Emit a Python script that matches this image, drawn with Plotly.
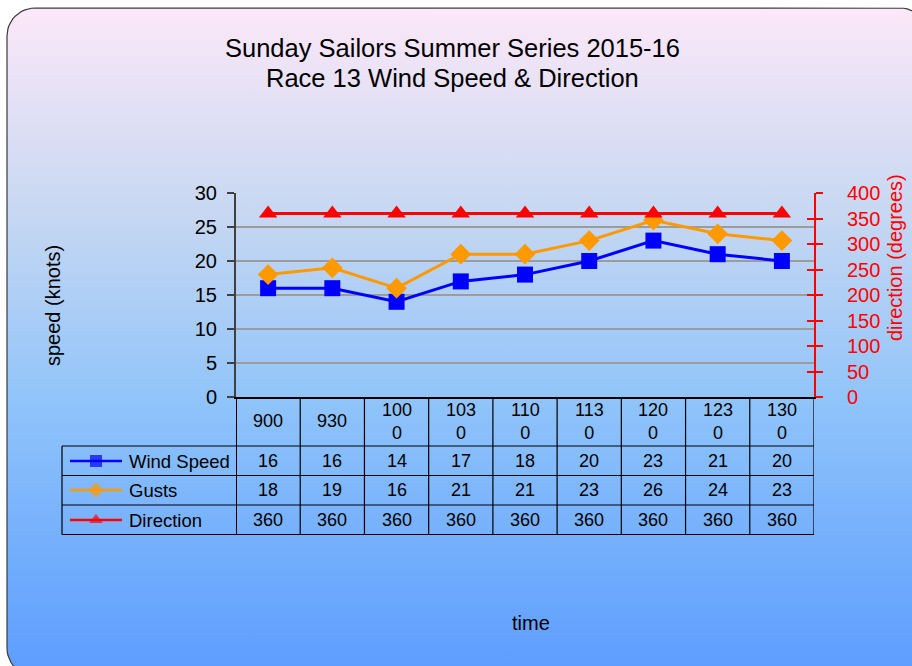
import math
import plotly.graph_objects as go

W, H = 912, 666
FONT = "Liberation Sans, Arial, sans-serif"

# ---------------- data ----------------
times = ["900", "930", "1000", "1030", "1100", "1130", "1200", "1230", "1300"]
wind_speed = [16, 16, 14, 17, 18, 20, 23, 21, 20]
gusts = [18, 19, 16, 21, 21, 23, 26, 24, 23]
direction = [360, 360, 360, 360, 360, 360, 360, 360, 360]
series_names = ["Wind Speed", "Gusts", "Direction"]
title_lines = ["Sunday Sailors Summer Series 2015-16", "Race 13 Wind Speed & Direction"]

# ---------------- layout constants (pixels) ----------------
PL, PR, PT, PB = 236, 814, 193, 397          # plot area
LEG_L = 62                                     # table legend column left edge
ROW_LINES = [446, 475.5, 505, 534.5]           # horizontal table lines
HEADER_Y = 421
ROW_Y = [461, 490, 520]
COLORS = ["#0000FF", "#FF9900", "#FF0000"]
SYMBOLS = ["square", "diamond", "triangle-up"]

fig = go.Figure()

# ---- rounded-rect gradient background (on pixel axes x/y) ----
bx0, by0, bx1, by1, r = 7, 8, 928, 676, 28
pts = []
def arc(cx, cy, a0, a1, n=12):
    for k in range(n + 1):
        a = math.radians(a0 + (a1 - a0) * k / n)
        pts.append((cx + r * math.cos(a), cy + r * math.sin(a)))
arc(bx0 + r, by0 + r, 180, 270)
arc(bx1 - r, by0 + r, 270, 360)
arc(bx1 - r, by1 - r, 0, 90)
arc(bx0 + r, by1 - r, 90, 180)
pts.append(pts[0])
fig.add_trace(go.Scatter(
    x=[p[0] for p in pts], y=[p[1] for p in pts], xaxis="x", yaxis="y",
    mode="lines", fill="toself", line=dict(color="#3a3a3a", width=1.2),
    fillgradient=dict(type="vertical", start=by0, stop=by1,
                      colorscale=[[0, "#FCE8F8"], [0.3, "#C8D8F2"], [0.6, "#8EC3FA"], [1, "#5C9CFF"]]),
    hoverinfo="skip", showlegend=False))

# ---- data series ----
fig.add_trace(go.Scatter(x=times, y=wind_speed, name=series_names[0], xaxis="x2", yaxis="y2",
                         mode="lines+markers", line=dict(color=COLORS[0], width=3),
                         marker=dict(symbol=SYMBOLS[0], size=16, color=COLORS[0]), showlegend=False))
fig.add_trace(go.Scatter(x=times, y=gusts, name=series_names[1], xaxis="x2", yaxis="y2",
                         mode="lines+markers", line=dict(color=COLORS[1], width=3),
                         marker=dict(symbol=SYMBOLS[1], size=16, color=COLORS[1]), showlegend=False))
fig.add_trace(go.Scatter(x=times, y=direction, name=series_names[2], xaxis="x2", yaxis="y3",
                         mode="lines+markers", line=dict(color=COLORS[2], width=3),
                         marker=dict(symbol=SYMBOLS[2], size=16, color=COLORS[2]), showlegend=False))
# invisible companion so the inner-tick axis (y4) is always drawn
fig.add_trace(go.Scatter(x=times, y=direction, xaxis="x2", yaxis="y4", mode="lines",
                         line=dict(width=0, color="rgba(0,0,0,0)"), hoverinfo="skip", showlegend=False))

# ---- legend keys inside the data table ----
for i, name in enumerate(series_names):
    fig.add_trace(go.Scatter(
        x=[70, 96, 122], y=[ROW_Y[i]] * 3, xaxis="x", yaxis="y", mode="lines+markers",
        line=dict(color=COLORS[i], width=2.5),
        marker=dict(symbol=SYMBOLS[i], size=[0, 12, 0], color=COLORS[i], line=dict(width=0)),
        hoverinfo="skip", showlegend=False))

shapes = []
ann = []

# table lines
for yl in ROW_LINES:
    shapes.append(dict(type="line", xref="paper", yref="y", x0=LEG_L / W, x1=PR / W,
                       y0=yl, y1=yl, line=dict(color="black", width=1.2)))
shapes.append(dict(type="line", xref="paper", yref="y", x0=LEG_L / W, x1=LEG_L / W,
                   y0=ROW_LINES[0], y1=ROW_LINES[-1], line=dict(color="black", width=1.2)))
for i in range(len(times) + 1):
    shapes.append(dict(type="line", xref="x2", yref="y", x0=i - 0.5, x1=i - 0.5,
                       y0=PB, y1=ROW_LINES[-1],
                       line=dict(color="black", width=2 if i == 0 else 1.2)))

# header labels & values (x = category index on x2)
rows = [wind_speed, gusts, direction]
for i, t in enumerate(times):
    lab = t if len(t) <= 3 else t[:3] + "<br>" + t[3:]
    ann.append(dict(xref="x2", yref="y", x=i, y=HEADER_Y, text=lab, showarrow=False,
                    font=dict(size=18, color="black", family=FONT), yanchor="middle"))
    for j, row in enumerate(rows):
        ann.append(dict(xref="x2", yref="y", x=i, y=ROW_Y[j], text=str(row[i]), showarrow=False,
                        font=dict(size=18, color="black", family=FONT), yanchor="middle"))
for j, name in enumerate(series_names):
    ann.append(dict(xref="x", yref="y", x=127, y=ROW_Y[j], text=name, showarrow=False,
                    xanchor="left", yanchor="middle", font=dict(size=18.5, color="black", family=FONT)))

# titles
ann.append(dict(xref="paper", yref="y", x=452 / W, y=48, text=title_lines[0], showarrow=False,
                font=dict(size=25.5, color="black", family=FONT), yanchor="middle"))
ann.append(dict(xref="paper", yref="y", x=452 / W, y=78, text=title_lines[1], showarrow=False,
                font=dict(size=25.5, color="black", family=FONT), yanchor="middle"))
ann.append(dict(xref="x", yref="y", x=53, y=306, text="speed (knots)", textangle=-90, showarrow=False,
                font=dict(size=20, color="black", family=FONT)))
ann.append(dict(xref="x", yref="y", x=895, y=258, text="direction (degrees)", textangle=-90,
                showarrow=False, font=dict(size=20, color="#FF0000", family=FONT)))
ann.append(dict(xref="x", yref="y", x=531, y=623, text="time", showarrow=False,
                font=dict(size=20, color="black", family=FONT)))

fig.update_layout(
    width=W, height=H, margin=dict(l=0, r=0, t=0, b=0, autoexpand=False),
    paper_bgcolor="white", plot_bgcolor="rgba(0,0,0,0)",
    font=dict(family=FONT, color="black"),
    showlegend=False, shapes=shapes, annotations=ann,
    xaxis=dict(domain=[0, 1], range=[0, W], visible=False, fixedrange=True, automargin=False),
    yaxis=dict(domain=[0, 1], range=[H, 0], visible=False, fixedrange=True, automargin=False),
    xaxis2=dict(domain=[PL / W, PR / W], anchor="y2", type="category",
                categoryorder="array", categoryarray=times, range=[-0.5, len(times) - 0.5],
                showticklabels=False, ticks="", showgrid=False, zeroline=False,
                showline=True, linecolor="black", linewidth=2, automargin=False),
    yaxis2=dict(domain=[(H - PB) / H, (H - PT) / H], anchor="x2", range=[0, 30], dtick=5,
                showline=True, linecolor="#404040", linewidth=2,
                ticks="outside", ticklen=7, tickwidth=2, tickcolor="#404040",
                showgrid=True, gridcolor="#9C9C9C", gridwidth=2, zeroline=False, automargin=False,
                tickfont=dict(size=20, color="black", family=FONT), ticklabelstandoff=6),
    yaxis3=dict(overlaying="y2", side="right", anchor="x2", range=[0, 400], dtick=50,
                showline=True, linecolor="#FF0000", linewidth=2,
                ticks="outside", ticklen=7, tickwidth=1.5, tickcolor="#FF0000",
                showgrid=False, zeroline=False, automargin=False,
                tickfont=dict(size=20, color="#FF0000", family=FONT), ticklabelstandoff=20),
    yaxis4=dict(overlaying="y2", side="right", anchor="x2", range=[0, 400], dtick=50,
                showline=False, ticks="inside", ticklen=7, tickwidth=1.5, tickcolor="#FF0000",
                showticklabels=False, showgrid=False, zeroline=False, automargin=False),
)

fig.write_html(
    "out.html",
    config={"displayModeBar": False},
    post_script="document.body.style.margin='0';document.body.style.overflow='hidden';"
                "document.documentElement.style.overflow='hidden';",
)
